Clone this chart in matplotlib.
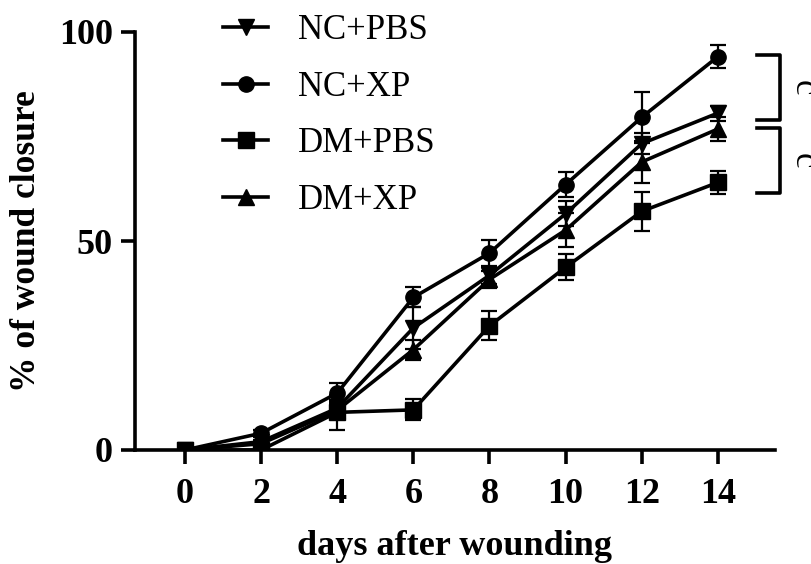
import matplotlib
matplotlib.use('Agg')
import matplotlib.pyplot as plt

# days after wounding
days = [0, 2, 4, 6, 8, 10, 12, 14]

# mean % of wound closure
nc_pbs = [0, 2.0, 10.0, 29.2, 41.8, 56.5, 73.3, 80.6]
nc_xp = [0, 4.0, 13.6, 36.5, 47.1, 63.5, 79.6, 94.1]
dm_pbs = [0, 0.0, 9.0, 9.6, 29.7, 43.7, 57.1, 64.0]
dm_xp = [0, 1.5, 9.5, 24.0, 40.8, 52.6, 68.9, 76.8]

# error (SD / SEM)
nc_pbs_err = [0, 0.5, 2.0, 5.0, 2.0, 3.0, 2.5, 1.8]
nc_xp_err = [0, 0.8, 2.5, 2.4, 3.2, 2.9, 6.1, 2.7]
dm_pbs_err = [0, 0.5, 4.2, 2.5, 3.5, 3.1, 4.7, 2.7]
dm_xp_err = [0, 0.5, 2.0, 2.4, 2.0, 4.0, 5.0, 2.8]

labels = ['NC+PBS', 'NC+XP', 'DM+PBS', 'DM+XP']
markers = ['v', 'o', 's', '^']

plt.rcParams['font.family'] = ['Liberation Serif', 'DejaVu Serif']

fig = plt.figure(figsize=(8.12, 5.64), dpi=100)
ax = fig.add_axes([135/812, 1 - 450/564, 640/812, 418/564])

series = [(nc_pbs, nc_pbs_err), (nc_xp, nc_xp_err), (dm_pbs, dm_pbs_err), (dm_xp, dm_xp_err)]
handles = []
for (y, e), lab, m in zip(series, labels, markers):
    ax.errorbar(days, y, yerr=e, color='black', lw=0, elinewidth=1.6,
                capsize=6, capthick=1.6, fmt='none', zorder=2)
    h, = ax.plot(days, y, color='black', lw=2.6, marker=m, markersize=11,
                 label=lab, zorder=3)
    handles.append(h)

ax.set_xlim(-1.31, 15.5)
ax.set_ylim(0, 100)
ax.set_xticks(days)
ax.set_yticks([0, 50, 100])

for s in ['top', 'right']:
    ax.spines[s].set_visible(False)
for s in ['left', 'bottom']:
    ax.spines[s].set_linewidth(2.6)

ax.tick_params(axis='both', width=2.6, length=10, labelsize=26, pad=6)
ax.tick_params(axis='x', pad=10)
for t in ax.get_xticklabels() + ax.get_yticklabels():
    t.set_fontweight('bold')

ax.set_xlabel('days after wounding', fontsize=26, fontweight='bold')
ax.set_ylabel('% of wound closure', fontsize=25.5, fontweight='bold')
ax.xaxis.set_label_coords(0.5, -0.192)
ax.yaxis.set_label_coords(-0.143, 0.5)

leg = fig.legend(handles=handles, labels=labels, loc='upper left',
                 bbox_to_anchor=(192/812, 1 + 17/564), frameon=False,
                 fontsize=25, handlelength=1.3, labelspacing=0.68,
                 handletextpad=0.85)

# significance brackets
ax.plot([15.02, 15.63, 15.63, 15.02], [94.5, 94.5, 78.9, 78.9],
        color='black', lw=2.6, clip_on=False)
ax.plot([15.02, 15.63, 15.63, 15.02], [77.0, 77.0, 61.5, 61.5],
        color='black', lw=2.6, clip_on=False)
ax.text(16.25, 86.7, 'c', fontsize=25, rotation=-90, ha='center', va='center',
        clip_on=False)
ax.text(16.25, 69.2, 'c', fontsize=25, rotation=-90, ha='center', va='center',
        clip_on=False)

fig.savefig('out.png', dpi=100)
